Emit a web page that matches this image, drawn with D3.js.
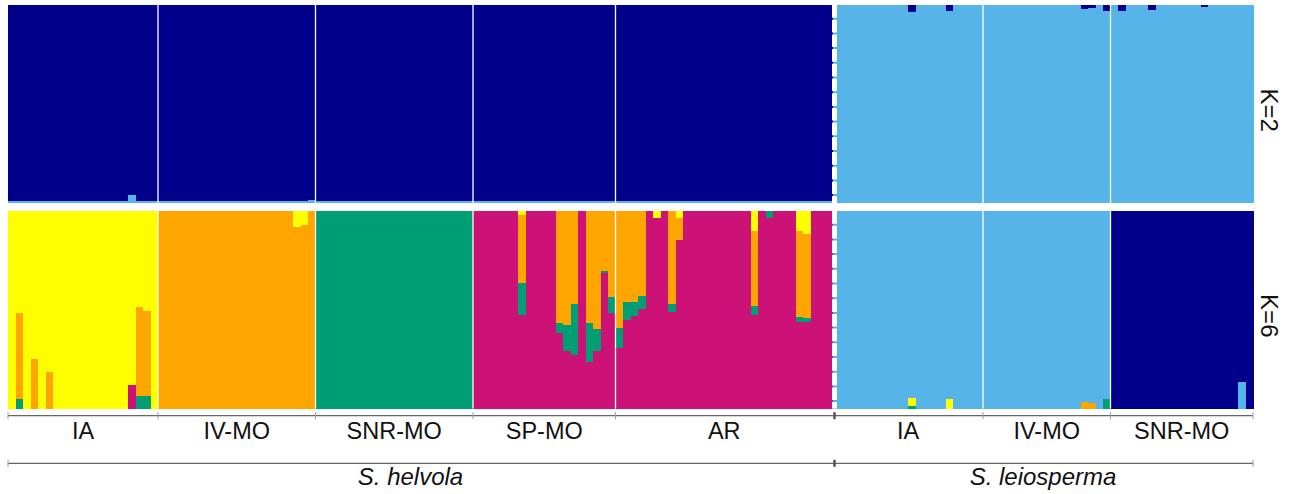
<!DOCTYPE html>
<html>
<head>
<meta charset="utf-8">
<script src="https://d3js.org/d3.v7.min.js"></script>
<style>
  body { margin: 0; background: #fff; }
  text { font-family: "Liberation Sans", Arial, sans-serif; fill: #111; }
</style>
</head>
<body>
<svg id="chart" width="1289" height="494"></svg>
<script>
// populations, in plotting order
var populations = ["IA", "IV-MO", "SNR-MO", "SP-MO", "AR", "IA", "IV-MO", "SNR-MO"];
var popSizes    = [20, 21, 21, 19, 29, 20, 17, 19];
var popSpecies  = [0, 0, 0, 0, 0, 1, 1, 1];
var speciesNames = ["S. helvola", "S. leiosperma"];

// clusters, bottom to top
var k2Colors = ["#56B4E9", "#00008B"];
var k6Colors = ["#CC1177", "#009E73", "#FFA500", "#FFFF00", "#56B4E9", "#00008B"];

// K=2 : default membership per population [lightblue, navy]
var k2Default = [[0.01, 0.99], [0.01, 0.99], [0.01, 0.99], [0.01, 0.99], [0.01, 0.99],
                 [1, 0], [1, 0], [1, 0]];
// K=2 : individuals that differ [index, lightblue, navy]
var k2Admixed = [
  [16, 0.04, 0.96], [40, 0.017, 0.983],
  [120, 0.964, 0.036], [125, 0.97, 0.03], [143, 0.978, 0.022], [144, 0.985, 0.015],
  [146, 0.97, 0.03], [148, 0.97, 0.03], [152, 0.976, 0.024], [159, 0.992, 0.008]
];

// K=6 : main cluster per population (index into k6Colors)
var k6Main = [3, 2, 1, 0, 0, 4, 4, 5];
// K=6 : admixed individuals [index, magenta, teal, orange, yellow, lightblue, navy]
var k6Admixed = [
  [1,   0,     0.049, 0.435, 0.516, 0, 0],
  [3,   0,     0,     0.25,  0.75,  0, 0],
  [5,   0,     0,     0.186, 0.814, 0, 0],
  [16,  0.12,  0,     0,     0.88,  0, 0],
  [17,  0,     0.066, 0.449, 0.485, 0, 0],
  [18,  0,     0.066, 0.43,  0.504, 0, 0],
  [38,  0,     0,     0.918, 0.082, 0, 0],
  [39,  0,     0,     0.928, 0.072, 0, 0],
  [68,  0.475, 0.16,  0.345, 0.02,  0, 0],
  [73,  0.385, 0.047, 0.568, 0,     0, 0],
  [74,  0.293, 0.13,  0.577, 0,     0, 0],
  [75,  0.272, 0.256, 0.472, 0,     0, 0],
  [77,  0.235, 0.197, 0.568, 0,     0, 0],
  [78,  0.294, 0.108, 0.598, 0,     0, 0],
  [79,  0.685, 0.012, 0.303, 0,     0, 0],
  [80,  0.485, 0.078, 0.437, 0,     0, 0],
  [81,  0.309, 0.098, 0.593, 0,     0, 0],
  [82,  0.448, 0.09,  0.462, 0,     0, 0],
  [83,  0.468, 0.07,  0.462, 0,     0, 0],
  [84,  0.503, 0.067, 0.43,  0,     0, 0],
  [86,  0.965, 0,     0,     0.035, 0, 0],
  [88,  0.491, 0.037, 0.472, 0,     0, 0],
  [89,  0.852, 0,     0.113, 0.035, 0, 0],
  [99,  0.474, 0.047, 0.378, 0.101, 0, 0],
  [101, 0.965, 0.035, 0,     0,     0, 0],
  [105, 0.44,  0.022, 0.437, 0.101, 0, 0],
  [106, 0.437, 0.02,  0.428, 0.115, 0, 0],
  [120, 0,     0.012, 0,     0.04,  0.948, 0],
  [125, 0,     0,     0,     0.048, 0.952, 0],
  [143, 0,     0,     0.035, 0,     0.965, 0],
  [144, 0,     0,     0.029, 0,     0.971, 0],
  [146, 0,     0.049, 0,     0,     0.951, 0],
  [164, 0,     0,     0,     0,     0.137, 0.863]
];

// build individuals
var inds = [];
var popStart = [];
populations.forEach(function(p, pi) {
  popStart.push(inds.length);
  for (var j = 0; j < popSizes[pi]; j++) {
    var q6 = [0, 0, 0, 0, 0, 0];
    q6[k6Main[pi]] = 1;
    inds.push({ i: inds.length, pop: pi, k2: k2Default[pi].slice(), k6: q6 });
  }
});
popStart.push(inds.length);
k2Admixed.forEach(function(r) { inds[r[0]].k2 = r.slice(1); });
k6Admixed.forEach(function(r) { inds[r[0]].k6 = r.slice(1); });

var svg = d3.select("#chart");

var x = d3.scaleBand()
  .domain(d3.range(inds.length))
  .range([8, 1253])
  .paddingInner(0).paddingOuter(0);
var bw = x.bandwidth();

var panels = [
  { key: "k2", colors: k2Colors, y: d3.scaleLinear().domain([0, 1]).range([203.3, 5]), label: "K=2" },
  { key: "k6", colors: k6Colors, y: d3.scaleLinear().domain([0, 1]).range([408.6, 211]), label: "K=6" }
];

function edge(idx) { return idx < inds.length ? x(idx) : x(inds.length - 1) + bw; }

var speciesBreak = popStart[popSpecies.indexOf(1)];

panels.forEach(function(pn) {
  var g = svg.append("g");
  var segs = [];
  inds.forEach(function(d) {
    var cum = 0;
    d[pn.key].forEach(function(q, c) {
      if (q > 0) segs.push({ i: d.i, y0: cum, y1: cum + q, c: c });
      cum += q;
    });
  });
  // background in the bottom cluster colour of each bar avoids hairline seams
  g.selectAll("rect.seg")
    .data(segs)
    .enter().append("rect")
    .attr("class", "seg")
    .attr("x", function(s) { return x(s.i); })
    .attr("width", bw + 0.6)
    .attr("y", function(s) { return pn.y(s.y1); })
    .attr("height", function(s) { return pn.y(s.y0) - pn.y(s.y1); })
    .attr("fill", function(s) { return pn.colors[s.c]; })
    .attr("shape-rendering", "crispEdges");

  // white separators between populations
  g.selectAll("line.sep")
    .data(popStart.slice(1, -1).filter(function(s) { return s !== speciesBreak; }))
    .enter().append("line")
    .attr("x1", function(s) { return edge(s); })
    .attr("x2", function(s) { return edge(s); })
    .attr("y1", pn.y(1)).attr("y2", pn.y(0))
    .attr("stroke", "#fff").attr("stroke-width", 1.3);

  // species break: dashed white band
  var bx = edge(speciesBreak) + 1.5;
  g.append("line")
    .attr("x1", bx).attr("x2", bx)
    .attr("y1", pn.y(1)).attr("y2", pn.y(0))
    .attr("stroke", "#fff").attr("stroke-width", 5)
    .attr("stroke-dasharray", "12.7 2");

  var yc = (pn.y(0) + pn.y(1)) / 2 + 6;
  svg.append("text")
    .attr("transform", "translate(1261," + yc + ") rotate(90)")
    .attr("text-anchor", "middle")
    .style("font-size", "24px")
    .text(pn.label);
});

// population axis
var ax1 = 415.7;
svg.append("line")
  .attr("x1", edge(0)).attr("x2", edge(inds.length))
  .attr("y1", ax1).attr("y2", ax1)
  .attr("stroke", "#666").attr("stroke-width", 1.3);
svg.selectAll("line.ptick")
  .data(popStart)
  .enter().append("line")
  .attr("x1", function(s) { return edge(s) + (s === speciesBreak ? 1.5 : 0); })
  .attr("x2", function(s) { return edge(s) + (s === speciesBreak ? 1.5 : 0); })
  .attr("y1", ax1 - 3.5).attr("y2", ax1 + 3.5)
  .attr("stroke", function(s) { return s === speciesBreak ? "#555" : "#99a"; })
  .attr("stroke-width", function(s) { return s === speciesBreak ? 2.5 : 1; });
svg.selectAll("text.pop")
  .data(populations)
  .enter().append("text")
  .attr("x", function(p, pi) { return (edge(popStart[pi]) + edge(popStart[pi + 1])) / 2; })
  .attr("y", 438.5)
  .attr("text-anchor", "middle")
  .style("font-size", "23.5px")
  .text(function(p) { return p; });

// species axis
var ax2 = 463.3;
var spEdges = [0, speciesBreak, inds.length];
svg.append("line")
  .attr("x1", edge(0)).attr("x2", edge(inds.length))
  .attr("y1", ax2).attr("y2", ax2)
  .attr("stroke", "#666").attr("stroke-width", 1.3);
svg.selectAll("line.stick")
  .data(spEdges)
  .enter().append("line")
  .attr("x1", function(s) { return edge(s) + (s === speciesBreak ? 1.5 : 0); })
  .attr("x2", function(s) { return edge(s) + (s === speciesBreak ? 1.5 : 0); })
  .attr("y1", ax2 - 3.5).attr("y2", ax2 + 3.5)
  .attr("stroke", function(s) { return s === speciesBreak ? "#555" : "#99a"; })
  .attr("stroke-width", function(s) { return s === speciesBreak ? 2.5 : 1; });
svg.selectAll("text.sp")
  .data(speciesNames)
  .enter().append("text")
  .attr("x", function(s, si) { return (edge(spEdges[si]) + edge(spEdges[si + 1])) / 2 - (si === 0 ? 10 : 0); })
  .attr("y", 485)
  .attr("text-anchor", "middle")
  .style("font-size", "24px")
  .style("font-style", "italic")
  .text(function(s) { return s; });
</script>
</body>
</html>
